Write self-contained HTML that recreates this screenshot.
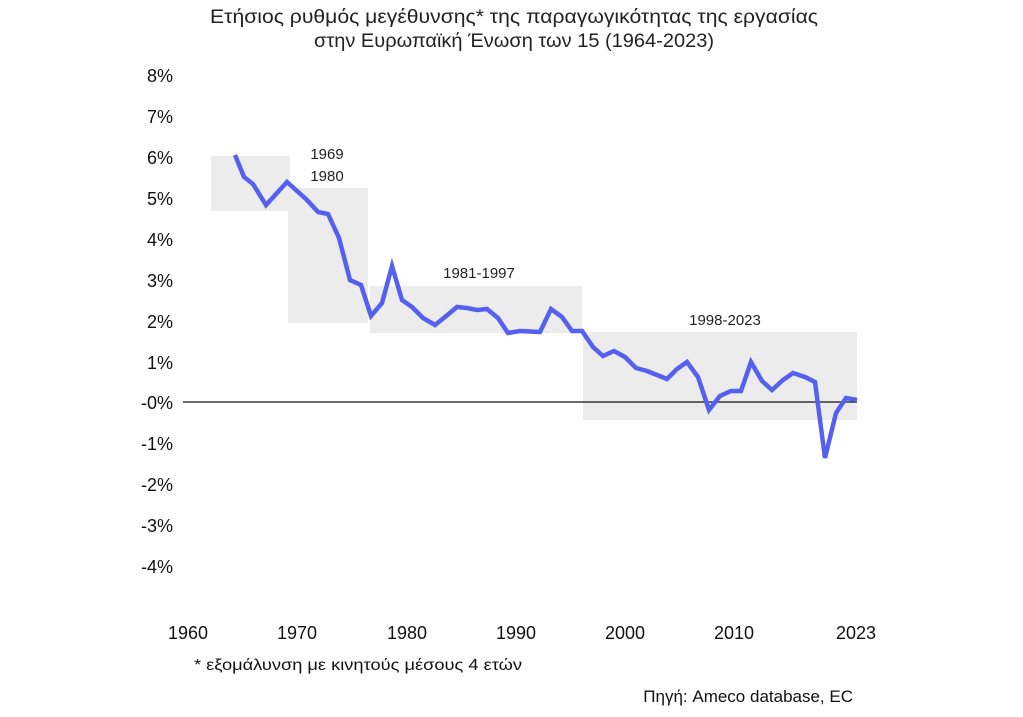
<!DOCTYPE html>
<html><head><meta charset="utf-8"><style>html,body{margin:0;padding:0;background:#fff}svg{display:block}</style></head><body>
<svg width="1023" height="717" viewBox="0 0 1023 717" xmlns="http://www.w3.org/2000/svg" font-family="Liberation Sans, sans-serif">
<text x="514" y="23" font-size="19" fill="#222" text-anchor="middle" textLength="608" lengthAdjust="spacingAndGlyphs">Ετήσιος ρυθμός μεγέθυνσης* της παραγωγικότητας της εργασίας</text>
<text x="514" y="47" font-size="19" fill="#222" text-anchor="middle" textLength="400" lengthAdjust="spacingAndGlyphs">στην Ευρωπαϊκή Ένωση των 15 (1964-2023)</text>
<g fill="#ececec">
<rect x="211" y="156" width="79" height="55"/>
<rect x="288" y="188" width="80" height="135"/>
<rect x="370" y="286" width="212" height="47"/>
<rect x="583" y="332" width="274" height="88"/>
</g>
<g font-size="18" fill="#111" text-anchor="end">
<text x="173" y="82">8%</text><text x="173" y="123">7%</text><text x="173" y="164">6%</text>
<text x="173" y="205">5%</text><text x="173" y="246">4%</text><text x="173" y="287">3%</text>
<text x="173" y="328">2%</text><text x="173" y="369">1%</text><text x="173" y="409">-0%</text>
<text x="173" y="450">-1%</text><text x="173" y="491">-2%</text><text x="173" y="532">-3%</text><text x="173" y="573">-4%</text>
</g>
<g font-size="18" fill="#111" text-anchor="middle">
<text x="188" y="639">1960</text><text x="297" y="639">1970</text><text x="407" y="639">1980</text>
<text x="516" y="639">1990</text><text x="625" y="639">2000</text><text x="734" y="639">2010</text><text x="856" y="639">2023</text>
</g>
<g font-size="15" fill="#222" text-anchor="middle">
<text x="327" y="159">1969</text><text x="327" y="181">1980</text>
<text x="479" y="278">1981-1997</text><text x="725" y="325">1998-2023</text>
</g>
<line x1="183" y1="402" x2="857" y2="402" stroke="#111" stroke-width="1.2"/>
<polyline fill="none" stroke="#5560f0" stroke-width="4.5" stroke-linejoin="miter" points="235,155 244,177 253,184 266,205 287,182 307,200 318,212 328,214 339,238 350,280 361,285 371,316 382,303 392,266 402,300 412,307 423,318 435,325 445,317 457,307 467,308 477,310 487,309 498,318 508,333 520,331 540,332 551,309 562,317 572,331 582,331 593,347 603,356 614,351 625,357 636,368 647,371 667,379 677,369 687,362 698,377 709,410 720,396 731,391 741,391 751,362 762,381 772,390 783,380 793,373 805,377 815,382 825,458 836,413 846,398 857,400"/>
<text x="194" y="670" font-size="16" fill="#111" textLength="328" lengthAdjust="spacingAndGlyphs">* εξομάλυνση με κινητούς μέσους 4 ετών</text>
<text x="853" y="702" font-size="17" fill="#111" text-anchor="end">Πηγή: Ameco database, EC</text>
</svg>
</body></html>
